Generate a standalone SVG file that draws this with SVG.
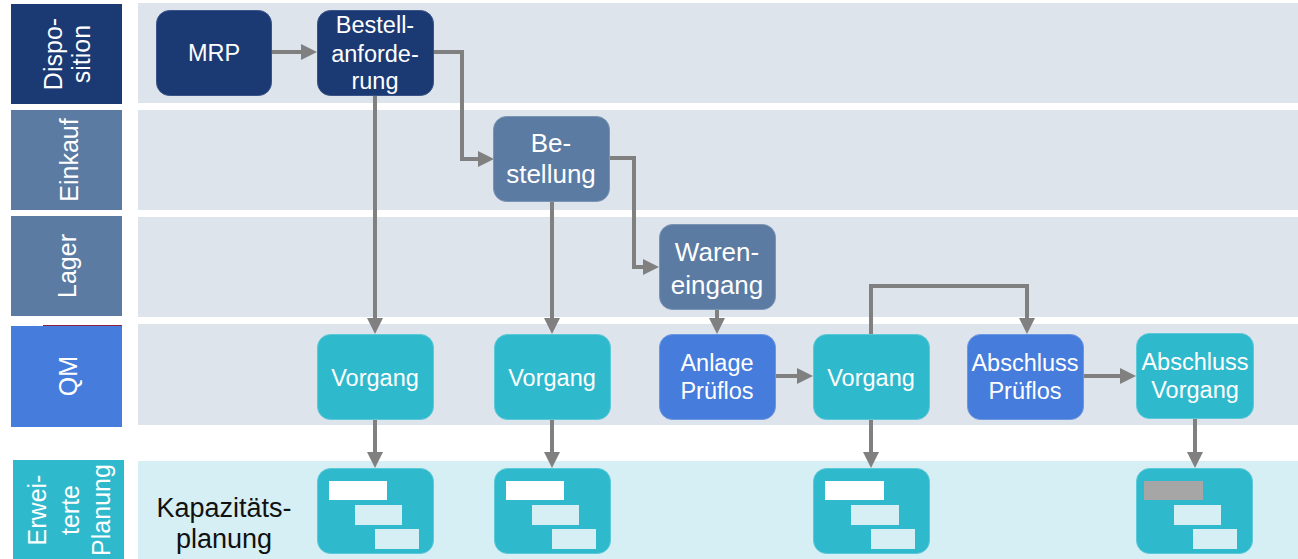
<svg xmlns="http://www.w3.org/2000/svg" width="1298" height="559" viewBox="0 0 1298 559">
<style>
.band{fill:#dee4ec}
.band2{fill:#d6eff4}
.navy{fill:#1b3a73}
.slate{fill:#5b7ba3}
.blue{fill:#467cdb}
.teal{fill:#2fb9cc}
.node{stroke-width:1}
.n-navy{fill:#1b3a73;stroke:#3a5489}
.n-slate{fill:#5b7ba3;stroke:#7a94b5}
.n-blue{fill:#467cdb;stroke:#6a96e3}
.n-teal{fill:#2fb9cc;stroke:#5cc9d8}
text{font-family:"Liberation Sans",Arial,sans-serif;fill:#ffffff;text-anchor:middle}
.lane{font-size:25px}
.t{font-size:23.5px}
.tb{font-size:26px}
.dark{fill:#111111;font-size:27px}
.conn{fill:none;stroke:#808080;stroke-width:4;marker-end:url(#arr)}
.barw{fill:#ffffff}
.barl{fill:#d6eff4}
.barg{fill:#a6a6a6}
</style>
<defs>
<marker id="arr" markerUnits="userSpaceOnUse" markerWidth="16" markerHeight="16" viewBox="0 0 16 16" refX="8" refY="8" orient="auto">
<path d="M0,0 L16,8 L0,16 z" fill="#808080"/>
</marker>
</defs>

<g id="lanes">
<rect class="band" x="138" y="3" width="1160" height="100"/>
<rect class="band" x="138" y="110" width="1160" height="100"/>
<rect class="band" x="138" y="217" width="1160" height="100"/>
<rect class="band" x="138" y="324" width="1160" height="101"/>
<rect class="band2" x="138" y="461" width="1160" height="98"/>
</g>

<g id="lane-dispo">
<rect class="navy" x="11" y="4" width="111" height="100"/>
<text class="lane" transform="translate(0,54) rotate(-90)"><tspan x="0" y="62">Dispo-</tspan><tspan x="0" y="90">sition</tspan></text>
</g>
<g id="lane-einkauf">
<rect class="slate" x="11" y="110" width="111" height="100"/>
<text class="lane" transform="translate(0,160) rotate(-90)" x="0" y="78">Einkauf</text>
</g>
<g id="lane-lager">
<rect class="slate" x="11" y="216" width="111" height="100"/>
<text class="lane" transform="translate(0,266) rotate(-90)" x="0" y="76">Lager</text>
</g>
<g id="lane-qm">
<rect class="blue" x="11" y="326" width="111" height="101"/>
<line x1="43" y1="325.5" x2="122" y2="325.5" stroke="#8a2240" stroke-width="1"/>
<text class="lane" transform="translate(0,376) rotate(-90)" x="0" y="77">QM</text>
</g>
<g id="lane-erweitert">
<rect class="teal" x="13" y="460" width="111" height="99"/>
<text class="lane" transform="translate(0,510) rotate(-90)"><tspan x="0" y="46">Erwei-</tspan><tspan x="0" y="79">terte</tspan><tspan x="0" y="110">Planung</tspan></text>
</g>

<g id="label-kapazitaet">
<text class="dark"><tspan x="224" y="517">Kapazitäts-</tspan><tspan x="224" y="548">planung</tspan></text>
</g>

<g id="connectors">
<path class="conn" d="M271,52 H309"/>
<path class="conn" d="M433,52 H462 V159 H486"/>
<path class="conn" d="M375,95 V326"/>
<path class="conn" d="M610,158 H634 V267 H651"/>
<path class="conn" d="M552,201 V326"/>
<path class="conn" d="M717,309 V326"/>
<path class="conn" d="M775,376 H805"/>
<path class="conn" d="M871,334 V286 H1027 V326"/>
<path class="conn" d="M1084,376 H1128"/>
<path class="conn" d="M375,419 V460"/>
<path class="conn" d="M552,419 V460"/>
<path class="conn" d="M871,419 V460"/>
<path class="conn" d="M1195,418 V460"/>
</g>

<g id="node-mrp">
<rect class="node n-navy" x="156.5" y="10.5" width="115" height="85" rx="13"/>
<text class="t" x="214" y="61">MRP</text>
</g>
<g id="node-bestellanforderung">
<rect class="node n-navy" x="317.5" y="10.5" width="116" height="85" rx="13"/>
<text class="t"><tspan x="375" y="33">Bestell-</tspan><tspan x="375" y="62">anforde-</tspan><tspan x="375" y="89">rung</tspan></text>
</g>
<g id="node-bestellung">
<rect class="node n-slate" x="493.5" y="116.5" width="116" height="85" rx="13"/>
<text class="tb"><tspan x="551" y="152">Be-</tspan><tspan x="551" y="183">stellung</tspan></text>
</g>
<g id="node-wareneingang">
<rect class="node n-slate" x="659.5" y="224.5" width="116" height="85" rx="13"/>
<text class="tb"><tspan x="717" y="261">Waren-</tspan><tspan x="717" y="294">eingang</tspan></text>
</g>
<g id="node-vorgang1">
<rect class="node n-teal" x="317.5" y="334.5" width="116" height="85" rx="13"/>
<text class="t" x="375" y="386">Vorgang</text>
</g>
<g id="node-vorgang2">
<rect class="node n-teal" x="494.5" y="334.5" width="116" height="85" rx="13"/>
<text class="t" x="552" y="386">Vorgang</text>
</g>
<g id="node-anlage-prueflos">
<rect class="node n-blue" x="659.5" y="334.5" width="116" height="85" rx="13"/>
<text class="t"><tspan x="717" y="371">Anlage</tspan><tspan x="717" y="399">Prüflos</tspan></text>
</g>
<g id="node-vorgang3">
<rect class="node n-teal" x="813.5" y="334.5" width="116" height="85" rx="13"/>
<text class="t" x="871" y="386">Vorgang</text>
</g>
<g id="node-abschluss-prueflos">
<rect class="node n-blue" x="967.5" y="334.5" width="116" height="85" rx="13"/>
<text class="t"><tspan x="1025" y="371">Abschluss</tspan><tspan x="1025" y="399">Prüflos</tspan></text>
</g>
<g id="node-abschluss-vorgang">
<rect class="node n-teal" x="1136.5" y="333.5" width="117" height="85" rx="13"/>
<text class="t"><tspan x="1195" y="370">Abschluss</tspan><tspan x="1195" y="398">Vorgang</tspan></text>
</g>

<g id="gantt1">
<rect class="node n-teal" x="317.5" y="468.5" width="116" height="85" rx="13"/>
<rect class="barw" x="329" y="481" width="58" height="19"/>
<rect class="barl" x="355" y="505" width="47" height="20"/>
<rect class="barl" x="375" y="529" width="44" height="20"/>
</g>
<g id="gantt2">
<rect class="node n-teal" x="494.5" y="468.5" width="116" height="85" rx="13"/>
<rect class="barw" x="506" y="481" width="58" height="19"/>
<rect class="barl" x="532" y="505" width="47" height="20"/>
<rect class="barl" x="552" y="529" width="44" height="20"/>
</g>
<g id="gantt3">
<rect class="node n-teal" x="813.5" y="468.5" width="116" height="85" rx="13"/>
<rect class="barw" x="825" y="481" width="59" height="19"/>
<rect class="barl" x="851" y="505" width="48" height="20"/>
<rect class="barl" x="871" y="529" width="44" height="20"/>
</g>
<g id="gantt4">
<rect class="node n-teal" x="1136.5" y="468.5" width="116" height="85" rx="13"/>
<rect class="barg" x="1144" y="481" width="59" height="19"/>
<rect class="barl" x="1174" y="505" width="47" height="20"/>
<rect class="barl" x="1193" y="529" width="44" height="20"/>
</g>
</svg>
